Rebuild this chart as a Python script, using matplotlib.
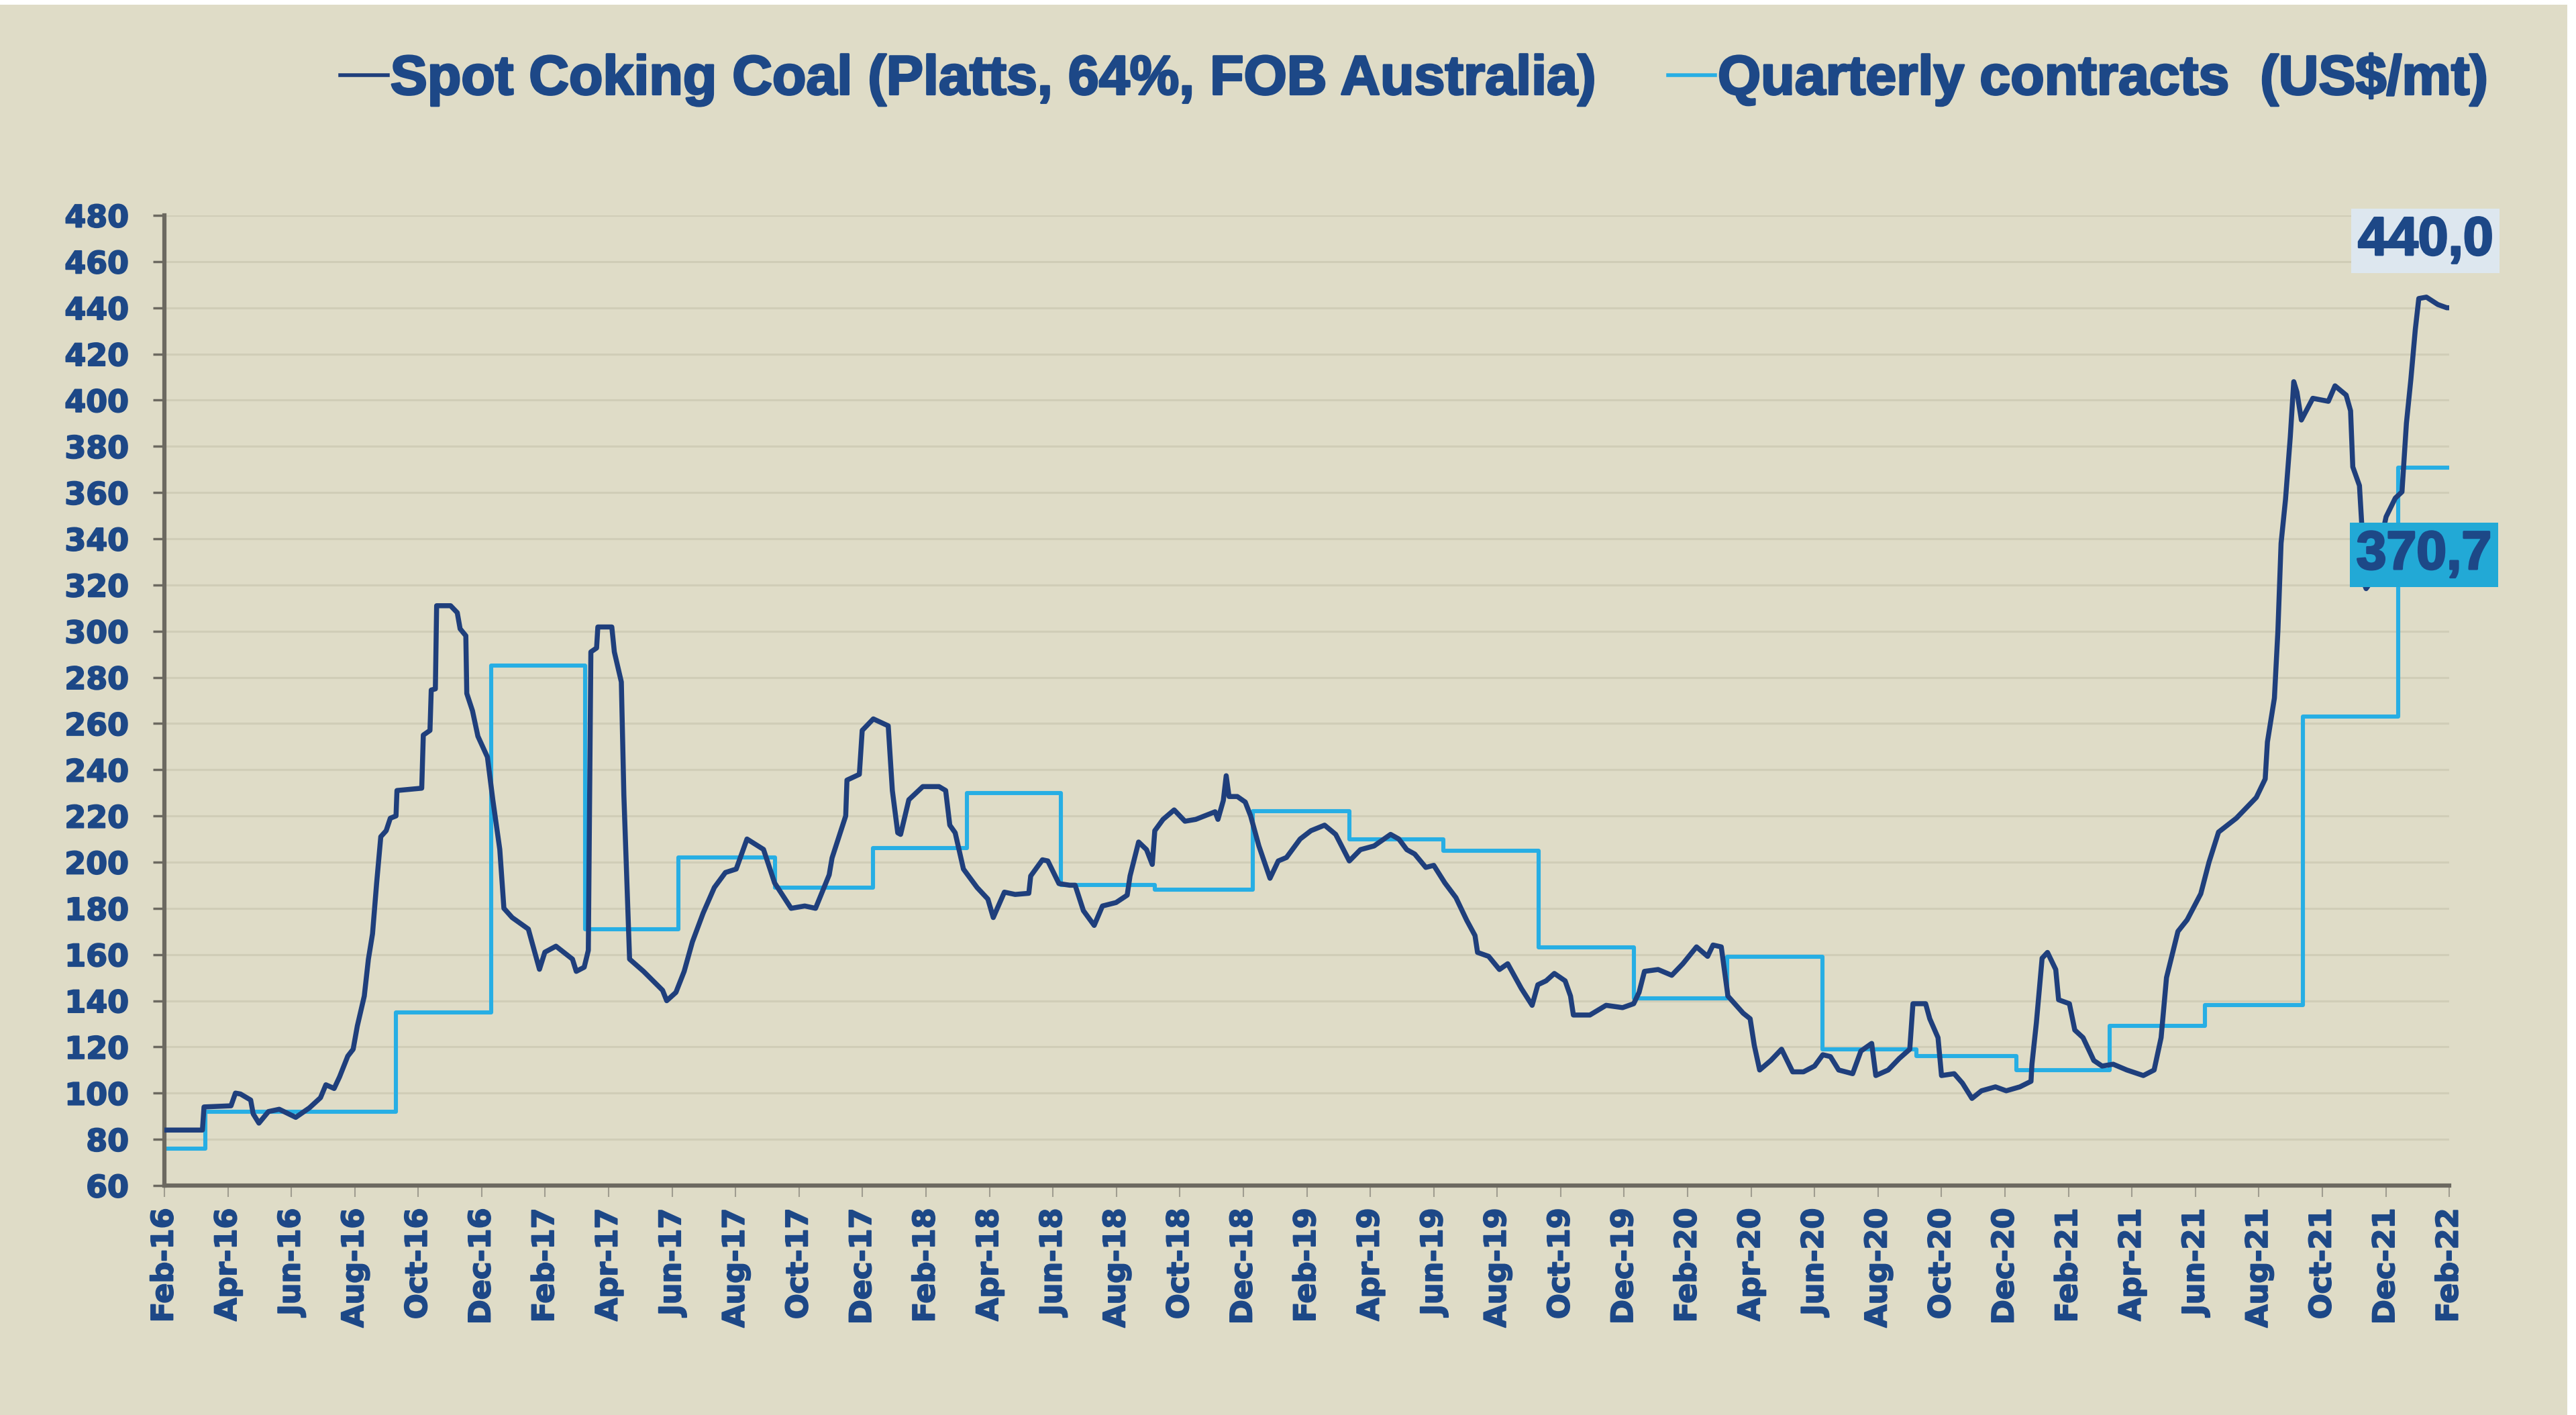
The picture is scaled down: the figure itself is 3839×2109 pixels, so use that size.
import matplotlib
matplotlib.use("Agg")
import matplotlib.pyplot as plt
import matplotlib.patheffects as pe
from matplotlib.lines import Line2D
from matplotlib.patches import Rectangle

# ---------------- data (x = months since Feb-2016) ----------------
spot_months = [0, 1.2, 1.25, 2.1, 2.24, 2.4, 2.72, 2.8, 2.98, 3.28, 3.62, 4.14, 4.57, 4.92, 5.09,
               5.35, 5.52, 5.78, 5.95, 6.08, 6.3, 6.43, 6.56, 6.69, 6.82, 6.99, 7.12, 7.3, 7.33,
               8.11, 8.16, 8.37, 8.41, 8.54, 8.58, 9.02, 9.23, 9.32, 9.5, 9.53, 9.71, 9.88, 10.18,
               10.35, 10.57, 10.7, 10.96, 11.47, 11.82, 11.99, 12.34, 12.86, 12.98, 13.23, 13.36,
               13.44, 13.62, 13.66, 14.1, 14.18, 14.4, 14.48, 14.66, 15.1, 15.7, 15.83, 16.12,
               16.38, 16.64, 16.98, 17.33, 17.68, 18.02, 18.36, 18.88, 19.23, 19.75, 20.18, 20.52,
               20.95, 21.04, 21.47, 21.51, 21.9, 21.99, 22.34, 22.81, 22.94, 23.11, 23.2, 23.46,
               23.9, 24.41, 24.62, 24.75, 24.92, 25.18, 25.61, 25.95, 26.12, 26.47, 26.81, 27.24,
               27.3, 27.67, 27.84, 28.19, 28.53, 28.7, 28.96, 29.3, 29.56, 29.99, 30.34, 30.43,
               30.7, 30.95, 31.13, 31.21, 31.47, 31.82, 32.16, 32.5, 33.11, 33.2, 33.37, 33.46,
               33.55, 33.81, 34.06, 34.23, 34.49, 34.84, 35.1, 35.36, 35.79, 36.13, 36.56, 36.91,
               37.34, 37.69, 38.12, 38.64, 38.9, 39.15, 39.4, 39.75, 40.0, 40.35, 40.7, 41.04,
               41.3, 41.38, 41.73, 42.07, 42.33, 42.76, 43.1, 43.28, 43.54, 43.8, 44.14, 44.31,
               44.4, 44.92, 45.43, 45.95, 46.3, 46.47, 46.64, 47.07, 47.5, 47.85, 48.28, 48.63,
               48.8, 49.06, 49.27, 49.75, 49.97, 50.1, 50.27, 50.62, 50.96, 51.31, 51.65, 52.0,
               52.26, 52.5, 52.76, 53.2, 53.46, 53.8, 53.93, 54.32, 54.67, 55.0, 55.1, 55.5,
               55.63, 55.89, 56.0, 56.4, 56.66, 56.96, 57.26, 57.7, 58.04, 58.47, 58.82, 58.85,
               58.99, 59.17, 59.34, 59.6, 59.69, 60.03, 60.2, 60.46, 60.8, 61.06, 61.41, 61.84,
               62.36, 62.7, 62.92, 63.09, 63.45, 63.74, 64.17, 64.43, 64.73, 65.29, 65.71, 65.92,
               66.2, 66.27, 66.49, 66.6, 66.7, 66.84, 66.99, 67.1, 67.2, 67.34, 67.7, 68.19, 68.4,
               68.75, 68.89, 68.96, 69.17, 69.24, 69.26, 69.38, 69.59, 70.01, 70.3, 70.51, 70.65,
               70.79, 70.93, 71.04, 71.28, 71.64, 71.92, 72.0]
spot_values = [84, 84, 94, 94.5, 100, 99.6, 97, 91, 87, 92, 93, 89.5, 93.6, 98, 103.6,
               102, 107, 116, 119, 129, 142, 158, 169, 191, 211, 213.6, 219, 220, 231,
               232, 255, 257, 274.5, 275, 311, 311, 308, 301, 298, 273, 265.5, 254.5, 245.5,
               227, 205.5, 180, 176, 171, 153.6, 161, 163.6, 158, 152.7, 154.5, 161.8,
               291, 292.7, 301.8, 301.8, 291, 278, 229, 158, 152.7, 144.5, 140, 143.6,
               152.7, 165.5, 178, 189, 195.5, 197, 210, 205.5, 191, 180, 181, 180,
               194.5, 201.8, 220, 235.5, 238, 257, 262, 259, 231, 212.7, 212, 227,
               232.7, 232.7, 231, 216, 212.7, 197, 189, 184, 176, 187, 186, 186.5,
               194, 201, 200.5, 190.7, 190, 190, 179, 172.6, 181, 182.5, 185.7, 194,
               208.7, 205.4, 199, 213.6, 218.5, 222.6, 217.7, 218.5, 221.8, 218.5, 226.7, 237.4,
               228.4, 228.4, 226, 220, 207, 193, 200.5, 202, 210, 213.6, 216, 212,
               200.5, 205.4, 207, 212, 210, 205.4, 203.5, 197.7, 198.6, 191, 184.6, 174.8,
               168.2, 160.9, 159.2, 153.5, 156, 145.3, 138, 146.9, 148.6, 151.8, 148.6, 142,
               133.8, 133.8, 138, 137, 138.7, 143.6, 152.7, 153.5, 151, 156, 163.3, 159.2,
               164.1, 163.3, 142, 134.6, 132.2, 120.7, 110, 114.1, 119, 109.2, 109.2, 111.7,
               116.6, 115.8, 110, 108.4, 118.2, 121.5, 107.6, 110, 115, 119, 138.7, 138.7,
               132.2, 124, 107.6, 108.4, 104.3, 97.7, 101, 102.7, 101, 102.7, 105.1, 112.5,
               130.5, 158.4, 160.9, 153.5, 140.4, 138.7, 127.3, 124, 114.1, 111.7, 112.5, 110,
               107.6, 110, 124, 150, 170, 175, 186.3, 200, 213, 219, 225, 228,
               236, 252, 271, 300, 338, 357, 384, 408, 403.5, 391.4, 400.8, 399.5, 406.2,
               402.2, 395.4, 371.1, 363, 346.8, 322.5, 318.4, 322.5, 349.5, 357.6, 360.3, 390,
               409, 430.6, 444, 444.6, 441.4, 440, 440]

contract_starts = [0, 1.29, 7.29, 10.3, 13.25, 16.2, 19.25, 22.32, 25.28, 28.25, 31.2, 34.3,
                   37.34, 40.3, 43.3, 46.3, 49.25, 52.25, 55.2, 58.35, 61.3, 64.3, 67.38, 70.38]
contract_values = [76, 92, 135, 285, 171, 202, 189, 206, 230, 190, 188, 222,
                   210, 205, 163, 141, 159, 119, 116, 110, 129, 138, 263, 370.7]
contract_end = 72

tick_labels = ["Feb-16", "Apr-16", "Jun-16", "Aug-16", "Oct-16", "Dec-16",
               "Feb-17", "Apr-17", "Jun-17", "Aug-17", "Oct-17", "Dec-17",
               "Feb-18", "Apr-18", "Jun-18", "Aug-18", "Oct-18", "Dec-18",
               "Feb-19", "Apr-19", "Jun-19", "Aug-19", "Oct-19", "Dec-19",
               "Feb-20", "Apr-20", "Jun-20", "Aug-20", "Oct-20", "Dec-20",
               "Feb-21", "Apr-21", "Jun-21", "Aug-21", "Oct-21", "Dec-21", "Feb-22"]
tick_months = [2 * i for i in range(len(tick_labels))]
y_ticks = list(range(60, 481, 20))

spot_label = "Spot Coking Coal (Platts, 64%, FOB Australia)"
contract_label = "Quarterly contracts  (US$/mt)"
last_spot_text = "440,0"
last_contract_text = "370,7"

# ---------------- style ----------------
BG = "#dfdcc7"
NAVY_TXT = "#1d4887"
SPOT_C = "#1f3f7c"
CONTRACT_C = "#27aee4"
GRID_C = "#d0cdb7"
SPINE_C = "#6c6960"

heavy = [pe.withStroke(linewidth=2.2, foreground=NAVY_TXT)]
heavy_small = [pe.withStroke(linewidth=1.4, foreground=NAVY_TXT)]

fig = plt.figure(figsize=(38.39, 21.09), dpi=100, facecolor=BG)
fig.patches.append(Rectangle((0, 0.9965), 1, 0.0035, transform=fig.transFigure,
                             facecolor="white", edgecolor="none", zorder=0))
fig.patches.append(Rectangle((0.9965, 0), 0.0035, 1, transform=fig.transFigure,
                             facecolor="white", edgecolor="none", zorder=0))

ax = fig.add_axes([0.0638, 0.1622, 0.9508 - 0.0638, 0.8478 - 0.1622])
ax.set_facecolor(BG)

ax.plot(spot_months, spot_values, color=SPOT_C, lw=5.4, solid_joinstyle="round", zorder=3)
ax.step(contract_starts + [contract_end], contract_values + [contract_values[-1]],
        where="post", color=CONTRACT_C, lw=4.4, zorder=2)

ax.set_xlim(0, 72)
ax.set_ylim(60, 480)
ax.set_yticks(y_ticks)
ax.set_xticks(tick_months)
ax.set_xticklabels(tick_labels, rotation=90, va="top", ha="center")
ax.yaxis.grid(True, color=GRID_C, lw=2.2, zorder=0)
ax.set_axisbelow(True)

for s in ("top", "right"):
    ax.spines[s].set_visible(False)
for s in ("left", "bottom"):
    ax.spines[s].set_color(SPINE_C)
    ax.spines[s].set_linewidth(4.5)

ax.tick_params(axis="y", direction="out", length=12, width=2.5, color=SPINE_C,
               pad=26, labelsize=33, labelcolor=NAVY_TXT)
ax.tick_params(axis="x", direction="out", length=12, width=1.5, color="#a09d90",
               pad=12, labelsize=32, labelcolor=NAVY_TXT)
for lab in ax.get_xticklabels() + ax.get_yticklabels():
    lab.set_fontfamily("DejaVu Sans")
    lab.set_fontweight("bold")
    lab.set_path_effects(heavy_small)

# value boxes
for xm, yv, txt, fc in [(71.25, 469, last_spot_text, "#dde7ef"),
                        (71.2, 333, last_contract_text, "#22a9d6")]:
    t = ax.text(xm, yv, txt, ha="center", va="center", fontsize=58,
                fontweight="bold", family=["Liberation Sans", "DejaVu Sans"], color=NAVY_TXT,
                bbox=dict(boxstyle="square,pad=0.12", facecolor=fc, edgecolor="none"),
                zorder=5)
    t.set_path_effects(heavy)

handles = [Line2D([], [], color=SPOT_C, lw=4),
           Line2D([], [], color=CONTRACT_C, lw=4)]
leg = fig.legend(handles, [spot_label, contract_label], loc="center",
                 bbox_to_anchor=(0.549, 0.944), ncol=2, frameon=False,
                 handlelength=0.85, handletextpad=0.05, columnspacing=1.3,
                 prop=dict(family=["Liberation Sans", "DejaVu Sans"], weight="bold", size=59.5),
                 labelcolor=NAVY_TXT)
for t in leg.get_texts():
    t.set_path_effects(heavy)

fig.savefig("out.png", dpi=100, facecolor=fig.get_facecolor())
